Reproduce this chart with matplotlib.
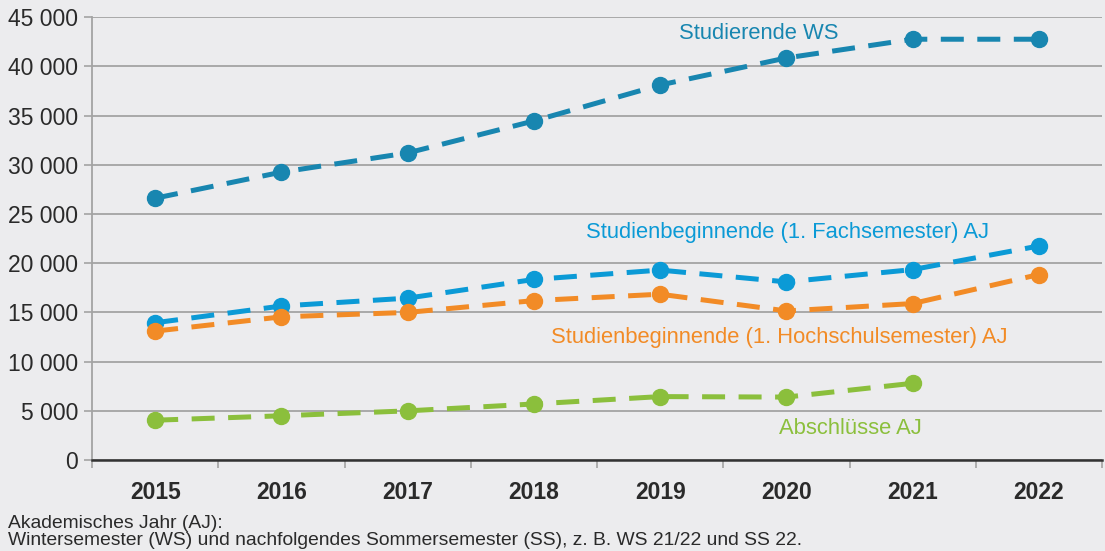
import numpy as np
import matplotlib.pyplot as plt

plt.rcParams['font.family'] = ['Liberation Sans', 'DejaVu Sans']

years = ["2015", "2016", "2017", "2018", "2019", "2020", "2021", "2022"]
studierende_ws = [26600, 29250, 31200, 34450, 38100, 40850, 42750, 42750]
beginner_fach = [13950, 15650, 16450, 18350, 19300, 18100, 19350, 21750]
beginner_hs = [13100, 14550, 15000, 16200, 16850, 15150, 15900, 18850]
abschluesse = [4050, 4500, 5000, 5700, 6450, 6400, 7800]

bg = "#ececee"
col_ws = "#1886b0"
col_fach = "#0b9ad6"
col_hs = "#f28b26"
col_abs = "#8bbf3c"

fig = plt.figure(figsize=(11.05, 5.51), dpi=100, facecolor=bg)
ax = fig.add_axes([0.0833, 0.165, 0.914, 0.804], facecolor=bg)

x = np.arange(len(years))
series = [
    (studierende_ws, col_ws),
    (beginner_fach, col_fach),
    (beginner_hs, col_hs),
    (abschluesse, col_abs),
]
for vals, c in series:
    ax.plot(x[:len(vals)], vals, color=c, lw=3.6, dashes=(4.6, 2.7),
            marker="o", ms=11.5, mec=c, mfc=c, zorder=3, dash_capstyle="butt")

ax.set_xlim(-0.5, len(years) - 0.5)
ax.set_ylim(0, 45000)
ax.set_yticks(np.arange(0, 45001, 5000))
ax.set_yticklabels([f"{v:,}".replace(",", " ") for v in range(0, 45001, 5000)],
                   fontsize=16.5, color="#2a2a2a")
ax.yaxis.grid(True, color="#a3a3a3", lw=1.3)
ax.set_axisbelow(True)
ax.tick_params(axis="y", length=6, width=1.2, color="#a3a3a3", pad=4)

ax.set_xticks(x)
ax.set_xticklabels(years, fontsize=16.5, fontweight="bold", color="#2a2a2a")
ax.set_xticks(np.arange(-0.5, len(years), 1), minor=True)
ax.tick_params(axis="x", which="major", length=0, pad=15)
ax.tick_params(axis="x", which="minor", length=6, width=1.2, color="#a3a3a3")

for s in ["top", "right"]:
    ax.spines[s].set_visible(False)
ax.spines["left"].set_color("#a3a3a3")
ax.spines["left"].set_linewidth(1.3)
ax.spines["bottom"].set_color("#333333")
ax.spines["bottom"].set_linewidth(1.8)

ax.text(4.78, 43350, "Studierende WS", color=col_ws, fontsize=15.8,
        ha="center", va="center")
ax.text(5.005, 23150, "Studienbeginnende (1. Fachsemester) AJ", color=col_fach,
        fontsize=15.8, ha="center", va="center")
ax.text(4.94, 12500, "Studienbeginnende (1. Hochschulsemester) AJ", color=col_hs,
        fontsize=15.8, ha="center", va="center")
ax.text(5.51, 3250, "Abschlüsse AJ", color=col_abs, fontsize=15.8,
        ha="center", va="center")

fig.text(0.007, 0.004,
         "Akademisches Jahr (AJ):\n"
         "Wintersemester (WS) und nachfolgendes Sommersemester (SS), z. B. WS 21/22 und SS 22.",
         fontsize=13.9, color="#2a2a2a", va="bottom", linespacing=0.95)

fig.savefig("out.png", dpi=100, facecolor=bg)
